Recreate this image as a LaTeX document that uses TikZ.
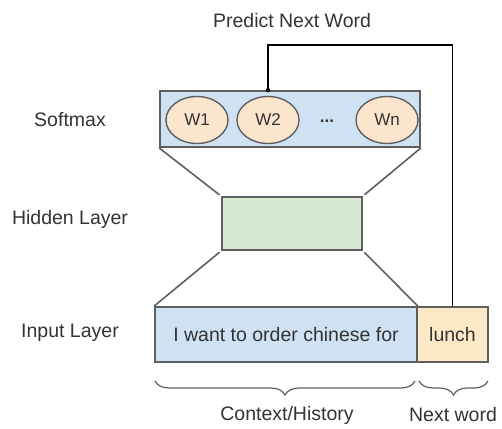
\documentclass[tikz,border=0pt]{standalone}
\usepackage{fontspec}
\setmainfont{Liberation Sans}
\usetikzlibrary{decorations.pathreplacing,calc,shapes.geometric}
\definecolor{txt}{HTML}{333333}
\definecolor{edge}{HTML}{5F5F5F}
\definecolor{bluefill}{HTML}{CFE2F3}
\definecolor{greenfill}{HTML}{D9EAD3}
\definecolor{orangefill}{HTML}{FCE5CD}
\definecolor{yellowfill}{HTML}{FDE9C6}
\tikzset{
  lbl/.style={text=txt, font=\fontsize{19.5}{23}\selectfont, inner sep=0},
  box/.style={draw=edge, line width=1.8pt, inner sep=0, text=txt,
              font=\fontsize{19.5}{23}\selectfont},
  word/.style={ellipse, draw=edge, line width=1.4pt, fill=orangefill,
               minimum width=62pt, minimum height=47pt, inner sep=0,
               text=txt, font=\fontsize{17}{20}\selectfont},
  funnel/.style={draw=edge, line width=1.6pt},
  conn/.style={draw=black, line width=1.1pt},
  brace/.style={draw=edge, line width=1.2pt,
                decorate, decoration={brace, mirror, amplitude=14pt}}
}
\begin{document}
\begin{tikzpicture}[x=1pt, y=-1pt]
  \useasboundingbox (0,0) rectangle (502,428);

  % layer names
  \node[lbl] (lsoft) at (70,120) {Softmax};
  \node[lbl] (lhid)  at (70,219) {Hidden Layer};
  \node[lbl] (linp)  at (70,333) {Input Layer};
  \node[lbl] (pred)  at (292,21) {Predict Next Word};

  % softmax layer with its output words
  \node[box, fill=bluefill, minimum width=260pt, minimum height=56pt] (soft) at (290,119) {};
  \node[word] (w1) at (197,120) {W1};
  \node[word] (w2) at (268,120) {W2};
  \node[lbl, font=\fontsize{17}{20}\selectfont\bfseries] (dots) at (327,121) {...};
  \node[word] (wn) at (387,120) {Wn};

  % hidden layer
  \node[box, fill=greenfill, minimum width=140pt, minimum height=53pt] (hid) at (292,223.5) {};

  % input layer
  \node[box, fill=bluefill, minimum width=262pt, minimum height=55pt] (ctx) at (286,334.5) {I want to order chinese for};
  \node[box, fill=yellowfill, minimum width=71pt, minimum height=55pt] (lunch) at (452.5,334.5) {lunch};

  % funnel edges between the layers
  \draw[funnel, shorten >=2pt] (soft.south west) -- (hid.north west);
  \draw[funnel, shorten >=2pt] (soft.south east) -- (hid.north east);
  \draw[funnel, shorten <=2pt] (hid.south west) -- (ctx.north west);
  \draw[funnel, shorten <=2pt] (hid.south east) -- (ctx.north east);

  % target word feeds back to the prediction
  \coordinate (top) at (0,45);
  \draw[conn] (w2 |- soft.north) -- (w2 |- top) -| (lunch.north);
  \fill (w2 |- soft.north) circle (2.2pt);

  % braces and their captions
  \coordinate (b1) at (155,381);
  \coordinate (b2) at (415,381);
  \coordinate (b3) at (419,381);
  \coordinate (b4) at (488,381);
  \draw[brace] (b1) -- (b2);
  \draw[brace] (b3) -- (b4);
  \node[lbl] (cap1) at (287,415) {Context/History};
  \node[lbl] (cap2) at (453,415) {Next word};
\end{tikzpicture}
\end{document}
